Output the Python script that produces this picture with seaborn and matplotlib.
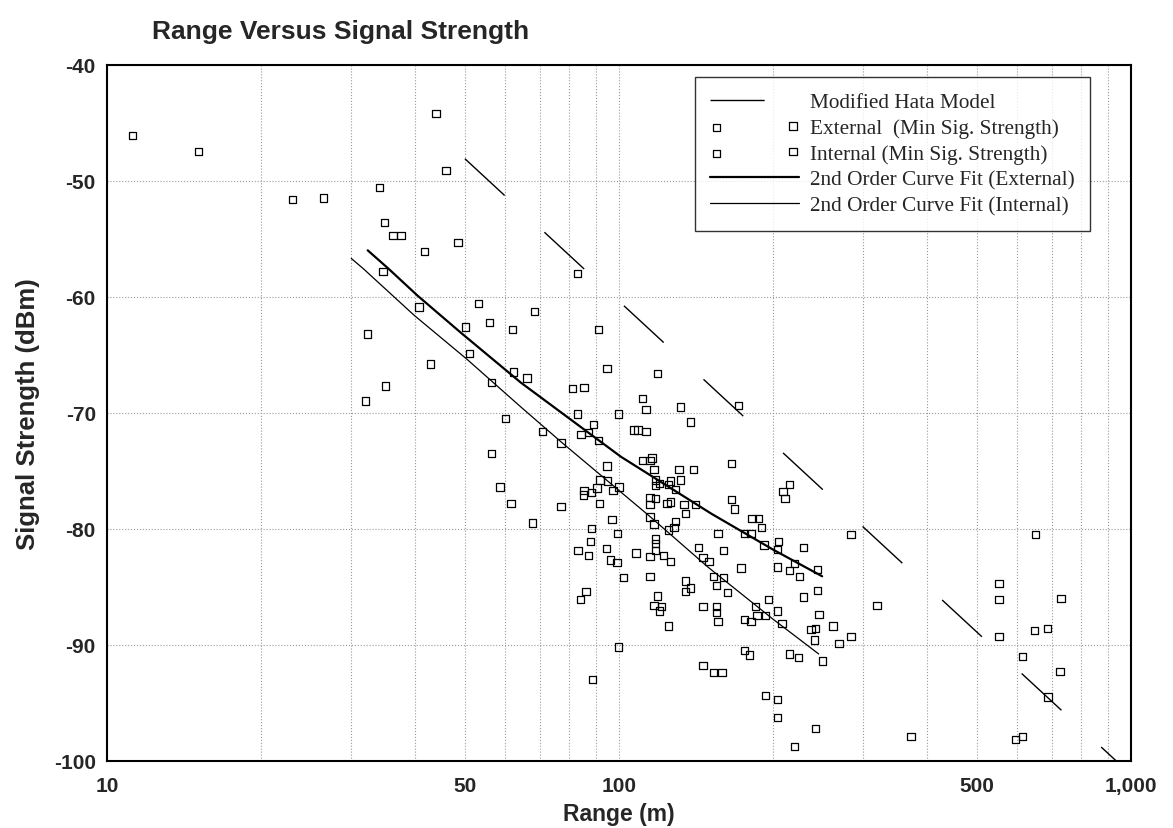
import matplotlib
matplotlib.use("Agg")
import matplotlib.pyplot as plt
import seaborn as sns
from matplotlib.ticker import FixedLocator, FuncFormatter, NullFormatter, NullLocator

# values
ext_range = [11.2, 15.1, 23.0, 26.5, 34.1, 34.8, 36.2, 37.5, 43.9, 45.9, 41.7, 48.5, 34.6, 40.7, 50.1,
             53.1, 55.9, 62.0, 62.3, 83.0, 68.3, 91.1, 94.7, 66.1, 119, 81.2, 85.5, 111, 113, 132,
             82.9, 99.7, 138, 89.1, 84.3, 87.3, 107, 109, 113, 91.1, 111, 115, 116, 117, 131,
             140, 118, 126, 132, 118, 120, 125, 129, 115, 118, 124, 126, 134, 141, 135,
             171, 166, 166, 168, 182, 187, 215, 209, 211, 190, 156, 176, 181, 284, 205,
             192, 229, 204, 220, 204, 215, 244, 225, 244, 319, 552, 552, 552, 651, 730, 648, 687]
ext_dbm = [-46.1, -47.5, -51.6, -51.5, -50.6, -53.6, -54.7, -54.7, -44.2, -49.1, -56.1, -55.3, -57.8, -60.9, -62.6,
           -60.6, -62.2, -62.8, -66.5, -58.0, -61.3, -62.8, -66.2, -67.0, -66.6, -67.9, -67.8, -68.8, -69.7, -69.5,
           -70.1, -70.1, -70.8, -71.0, -71.9, -71.7, -71.5, -71.5, -71.6, -72.4, -74.1, -74.1, -73.9, -74.9, -74.9,
           -74.9, -75.8, -75.9, -75.8, -76.3, -76.1, -76.2, -76.6, -77.3, -77.4, -77.8, -77.7, -77.9, -77.9, -78.7,
           -69.4, -74.4, -77.5, -78.3, -79.1, -79.1, -76.2, -76.8, -77.4, -79.9, -80.4, -80.4, -80.4, -80.5, -81.1,
           -81.4, -81.6, -81.8, -83.0, -83.3, -83.6, -83.5, -84.1, -85.3, -86.6, -84.7, -86.1, -89.3, -80.5, -86.0, -88.8, -88.6]

int_range = [32.3, 51.0, 42.9, 35.0, 56.3, 32.0, 60.0, 56.3, 58.6, 61.5,
             70.8, 77.1, 94.7, 91.8, 95.0, 90.6, 85.5, 85.3, 88.4, 97.3, 100, 115, 77.1, 91.5, 115, 96.9,
             160, 146, 150, 173, 153, 160, 155, 163, 229, 196,
             146, 155, 155, 185, 204, 246, 156, 186, 193, 176, 181, 208, 237, 242, 262, 241, 269, 284,
             176, 180, 215, 224, 250, 146, 153, 159, 193, 204, 204, 242, 220,
             67.8, 117, 129, 128, 125, 88.4, 99.2, 87.9, 118, 118, 118, 94.4, 83.1, 87.1, 108, 115, 122,
             126, 96.2, 99.1, 143, 102, 115, 135, 138, 135, 86.2, 84.0, 119, 117, 121, 120, 125, 99.9, 88.7, 372,
             613, 727, 688, 594, 614]
int_dbm = [-63.2, -64.9, -65.8, -67.7, -67.4, -69.0, -70.5, -73.5, -76.4, -77.8,
           -71.6, -72.6, -74.6, -75.8, -75.9, -76.5, -76.7, -77.1, -76.9, -76.7, -76.4, -77.9, -78.1, -77.8, -79.0, -79.2,
           -81.9, -82.5, -82.8, -83.4, -84.1, -84.2, -84.9, -85.5, -85.9, -86.1,
           -86.7, -86.7, -87.2, -86.7, -87.1, -87.4, -88.0, -87.5, -87.5, -87.8, -88.0, -88.2, -88.7, -88.6, -88.4, -89.6, -89.9, -89.3,
           -90.5, -90.9, -90.8, -91.1, -91.4, -91.8, -92.4, -92.4, -94.4, -94.7, -96.3, -97.2, -98.8,
           -79.5, -79.6, -79.4, -79.9, -80.1, -80.0, -80.4, -81.1, -80.9, -81.3, -81.9, -81.7, -81.9, -82.3, -82.1, -82.4, -82.3,
           -82.8, -82.7, -82.9, -81.6, -84.2, -84.1, -84.5, -85.1, -85.4, -85.4, -86.1, -85.8, -86.6, -86.7, -87.1, -88.4, -90.2, -93.0, -97.9,
           -91.0, -92.3, -94.5, -98.2, -97.9]

hata_range = [50, 1000]
hata_dbm = [-48.1, -101.2]

ext_fit_range = [32.3, 35.5, 40.4, 49.1, 64.3, 100.9, 151.4, 199.9, 249.3]
ext_fit_dbm = [-56.0, -57.6, -59.9, -63.1, -67.4, -73.8, -78.7, -81.8, -84.1]

int_fit_range = [30.0, 31.7, 39.8, 50.5, 64.3, 77.0, 114.6, 149.1, 199.9, 245.5]
int_fit_dbm = [-56.7, -57.6, -61.6, -65.4, -69.5, -72.5, -78.9, -83.3, -87.8, -90.8]

x_major = [10, 50, 100, 500, 1000]
x_minor = [20, 30, 40, 60, 70, 80, 90, 200, 300, 400, 600, 700, 800, 900]
y_ticks = [-100, -90, -80, -70, -60, -50, -40]

sns.set_style("white")
plt.rcParams['font.family'] = ['Liberation Sans', 'DejaVu Sans']
plt.rcParams['axes.unicode_minus'] = False

fig, ax = plt.subplots(figsize=(11.73, 8.29), dpi=100)
fig.subplots_adjust(left=0.0912, right=0.9642, top=0.9207, bottom=0.0812)

sns.lineplot(x=hata_range, y=hata_dbm, ax=ax, color='black', lw=1.0,
             linestyle=(0, (39, 39)), label='Modified Hata Model')
sns.scatterplot(x=ext_range, y=ext_dbm, ax=ax, marker='s', s=28, facecolor='none',
                edgecolor='black', linewidth=0.9, label='External  (Min Sig. Strength)')
sns.scatterplot(x=int_range, y=int_dbm, ax=ax, marker='s', s=28, facecolor='none',
                edgecolor='black', linewidth=0.9, label='Internal (Min Sig. Strength)')
sns.lineplot(x=ext_fit_range, y=ext_fit_dbm, ax=ax, color='black', lw=1.6,
             sort=False, label='2nd Order Curve Fit (External)')
sns.lineplot(x=int_fit_range, y=int_fit_dbm, ax=ax, color='black', lw=0.9,
             sort=False, label='2nd Order Curve Fit (Internal)')

ax.set_xscale('log')
ax.set_xlim(10, 1000)
ax.set_ylim(-100, -40)
ax.xaxis.set_major_locator(FixedLocator(x_major))
ax.xaxis.set_minor_locator(FixedLocator(x_minor))
ax.xaxis.set_major_formatter(FuncFormatter(lambda v, p: f"{int(round(v)):,}"))
ax.xaxis.set_minor_formatter(NullFormatter())
ax.yaxis.set_major_locator(FixedLocator(y_ticks))
ax.yaxis.set_minor_locator(NullLocator())
ax.yaxis.set_major_formatter(FuncFormatter(lambda v, p: f"{int(v)}"))

ax.grid(True, which='both', linestyle=':', color='#999999', lw=0.8)
ax.tick_params(axis='both', length=0, labelsize=15)
ax.tick_params(axis='x', pad=11)
ax.tick_params(axis='y', pad=8)
for lab in ax.get_xticklabels() + ax.get_yticklabels():
    lab.set_fontweight('bold')
for sp in ax.spines.values():
    sp.set_color('black')
    sp.set_linewidth(1.5)

ax.set_xlabel('Range (m)', fontsize=16.5, fontweight='bold', labelpad=5)
ax.set_ylabel('Signal Strength (dBm)', fontsize=18.5, fontweight='bold', labelpad=10)
fig.text(0.13, 0.962, 'Range Versus Signal Strength', fontsize=19, fontweight='bold',
         ha='left', va='center')

order = ['Modified Hata Model', 'External  (Min Sig. Strength)', 'Internal (Min Sig. Strength)',
         '2nd Order Curve Fit (External)', '2nd Order Curve Fit (Internal)']
handles, labels = ax.get_legend_handles_labels()
hmap = dict(zip(labels, handles))
leg = ax.legend([hmap[k] for k in order], order, loc='upper right', bbox_to_anchor=(0.96, 0.982),
                borderaxespad=0, frameon=True, fancybox=False, edgecolor='black',
                prop={'family': 'Liberation Serif', 'size': 15.3}, handlelength=4.2,
                scatterpoints=2, labelspacing=0.28, handletextpad=0.5, borderpad=0.72)
leg.get_frame().set_linewidth(1.0)

fig.savefig('out.png', dpi=100)
